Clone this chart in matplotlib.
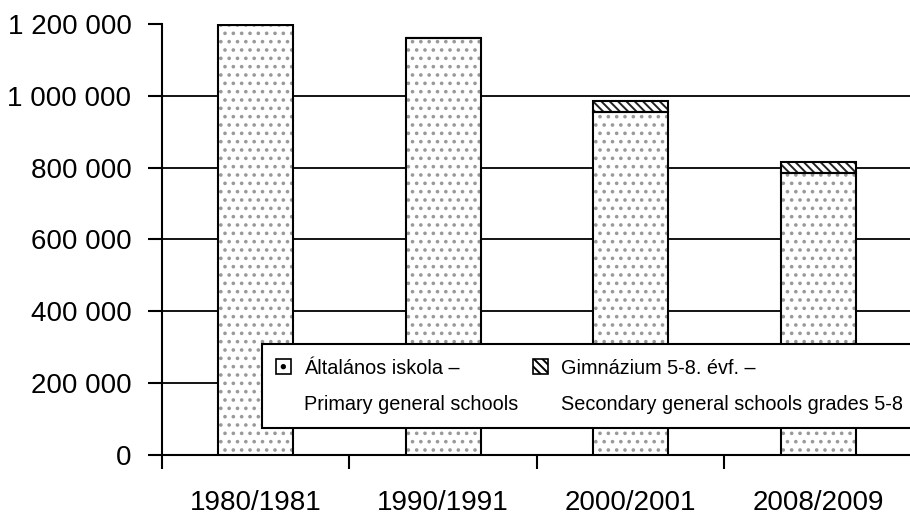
import matplotlib.pyplot as plt
import numpy as np

years = ['1980/1981', '1990/1991', '2000/2001', '2008/2009']
primary = [1198000, 1162000, 956000, 786000]
gimnazium = [0, 0, 30000, 30000]
yticks = [0, 200000, 400000, 600000, 800000, 1000000, 1200000]
leg_lines = [('Általános iskola –', 'Primary general schools'),
             ('Gimnázium 5-8. évf. –', 'Secondary general schools grades 5-8')]

plt.rcParams['font.family'] = ['Liberation Sans', 'DejaVu Sans']
plt.rcParams['hatch.linewidth'] = 1.4

fig = plt.figure(figsize=(9.1, 5.18), dpi=100)
ax = fig.add_axes([0.178, 0.1216, 0.824, 0.8321])

x = np.arange(len(years))
w = 0.4

# dotted fill (grey dots) then black outline on top
ax.bar(x, primary, w, color='white', edgecolor='#999999', hatch='..', linewidth=0, zorder=3)
ax.bar(x, primary, w, fill=False, edgecolor='black', linewidth=1.5, zorder=4)
ax.bar(x, gimnazium, w, bottom=primary, color='white', edgecolor='#222222',
       hatch='\\\\\\\\', linewidth=0, zorder=3)
ax.bar(x, gimnazium, w, bottom=primary, fill=False, edgecolor='black', linewidth=1.5, zorder=4)

ax.set_ylim(0, 1200000)
ax.set_xlim(-0.5, 3.5)
ax.hlines(yticks[1:-1], -0.5, 3.5, colors='black', linewidth=1.3, zorder=1)

ax.set_yticks(yticks)
ax.set_yticklabels(['{:,}'.format(v).replace(',', ' ') for v in yticks], fontsize=20)
ax.set_xticks(np.arange(len(years) + 1) - 0.5)
ax.set_xticklabels([])
ax.set_xticks(x, minor=True)
ax.set_xticklabels(years, minor=True, fontsize=20)
ax.tick_params(axis='x', which='minor', length=0, pad=25)
ax.tick_params(axis='x', which='major', direction='out', length=10, width=1.5)
ax.tick_params(axis='y', direction='out', length=10, width=1.5, pad=12)

for s in ['top', 'right']:
    ax.spines[s].set_visible(False)
ax.spines['left'].set_linewidth(1.5)
ax.spines['bottom'].set_linewidth(1.5)

# legend: one row per text line, handle only on the first line
h1 = plt.Rectangle((0, 0), 1, 1, facecolor='white', edgecolor='black', hatch='.', linewidth=1.2)
h2 = plt.Rectangle((0, 0), 1, 1, facecolor='white', edgecolor='black', hatch='\\\\\\\\', linewidth=1.2)
blank = plt.Rectangle((0, 0), 1, 1, visible=False)
handles = [h1, blank, h2, blank]
texts = [leg_lines[0][0], leg_lines[0][1], leg_lines[1][0], leg_lines[1][1]]
leg = fig.legend(handles, texts, ncol=2, loc='lower left',
                 bbox_to_anchor=(0.288, 0.174), fontsize=14.3, frameon=True,
                 fancybox=False, handlelength=0.75, handleheight=0.75,
                 columnspacing=0.75, borderpad=0.72, handletextpad=0.65,
                 labelspacing=0.85, borderaxespad=0)
leg.get_frame().set_edgecolor('black')
leg.get_frame().set_linewidth(1.5)
leg.get_frame().set_alpha(1)

fig.savefig('out.png', dpi=100)
